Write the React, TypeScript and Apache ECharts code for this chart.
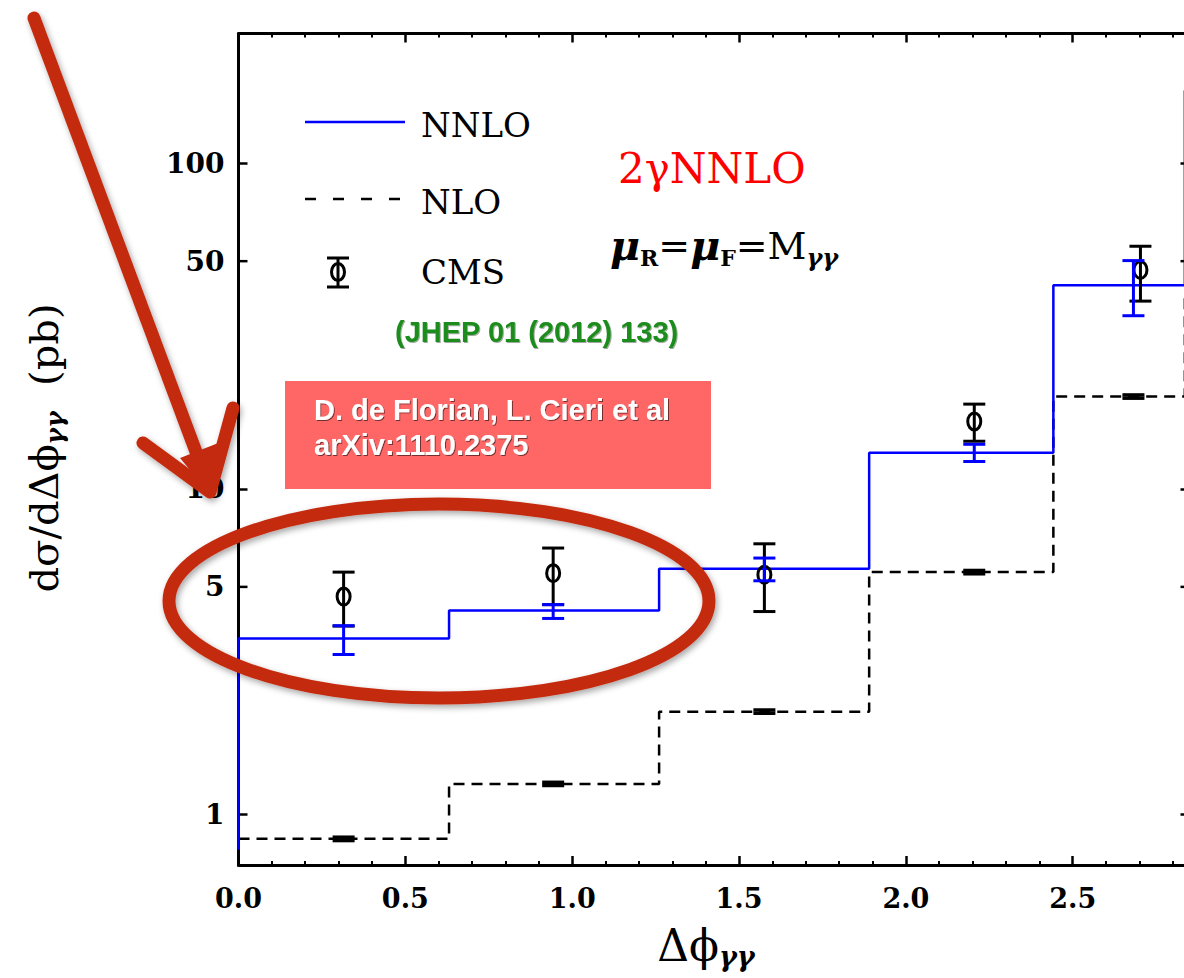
import { useEffect, useRef } from "react";
import * as echarts from "echarts";

// Bin edges in Δϕγγ and the binned predictions (pb)
const binEdges = [0, 0.631, 1.2605, 1.89, 2.442, 2.836, 3.1416];
const nnloStart = 0.78;
const nnloValues = [3.47, 4.23, 5.68, 12.9, 42.2, 167];
const nloValues = [0.842, 1.242, 2.07, 5.55, 19.2, 38.5];

// NNLO scale-uncertainty bars
const nnloBarX = [0.315, 0.943, 1.576, 2.205, 2.682];
const nnloLow = [3.1, 4.0, 5.22, 12.13, 34.0];
const nnloHigh = [3.8, 4.41, 6.13, 13.7, 50.2];

// NLO uncertainty bars (very narrow)
const nloBarX = [0.315, 0.943, 1.576, 2.205, 2.682];
const nloLow = [0.832, 1.228, 2.046, 5.485, 18.98];
const nloHigh = [0.852, 1.256, 2.094, 5.615, 19.42];

// CMS measurement
const cmsX = [0.315, 0.943, 1.576, 2.205, 2.703];
const cmsValues = [4.67, 5.51, 5.45, 16.1, 47.0];
const cmsLow = [3.79, 4.41, 4.2, 14.0, 37.7];
const cmsHigh = [5.55, 6.58, 6.78, 18.2, 55.6];

// Axis settings
const xMin = 0;
const xMax = 2.85;
const xInterval = 0.5;
const yMin = 0.7;
const yMax = 250;
const yExtraLabels = [5, 50];

const SERIF = "'DejaVu Serif', serif";
const SANS = "'Liberation Sans', Arial, sans-serif";
const BLUE = "#0000ff";
const RED_INK = "#c42a10";

function stepPoints(start: number | null, values: number[]) {
  const pts: number[][] = [];
  if (start !== null) pts.push([binEdges[0], start]);
  values.forEach((v, i) => pts.push([binEdges[i], v]));
  pts.push([binEdges[values.length], values[values.length - 1]]);
  return pts;
}

function errorBarSeries(
  xs: number[],
  lo: number[],
  hi: number[],
  color: string,
  lineWidth: number,
  capHalf: number,
  mid: number[] | null
) {
  return {
    type: "custom",
    xAxisIndex: 0,
    yAxisIndex: 0,
    clip: true,
    data: xs.map((x, i) => (mid ? [x, lo[i], hi[i], mid[i]] : [x, lo[i], hi[i]])),
    encode: { x: 0, y: mid ? [1, 2, 3] : [1, 2] },
    renderItem: (_params: any, api: any) => {
      const x = api.value(0);
      const pLo = api.coord([x, api.value(1)]);
      const pHi = api.coord([x, api.value(2)]);
      const style = { stroke: color, lineWidth, fill: "none" };
      const children: any[] = [
        { type: "line", shape: { x1: pLo[0], y1: pLo[1], x2: pHi[0], y2: pHi[1] }, style },
        { type: "line", shape: { x1: pLo[0] - capHalf, y1: pLo[1], x2: pLo[0] + capHalf, y2: pLo[1] }, style },
        { type: "line", shape: { x1: pHi[0] - capHalf, y1: pHi[1], x2: pHi[0] + capHalf, y2: pHi[1] }, style },
      ];
      if (mid) {
        const pM = api.coord([x, api.value(3)]);
        children.push({
          type: "ellipse",
          shape: { cx: pM[0], cy: pM[1], rx: 6.5, ry: 8.5 },
          style: { stroke: color, lineWidth, fill: "none" },
        });
      }
      return { type: "group", children };
    },
  };
}

export default function App() {
  const ref = useRef<HTMLDivElement>(null);

  useEffect(() => {
    const chart = echarts.init(ref.current!, null, { renderer: "svg" });

    const axisLine = { show: true, onZero: false, lineStyle: { color: "#000", width: 3 } };
    const majorTick = { show: true, inside: true, length: 9, lineStyle: { color: "#000", width: 2.5 } };
    const minorTick = { show: true, splitNumber: 5, length: 4, lineStyle: { color: "#000", width: 2 } };

    chart.setOption({
      animation: false,
      backgroundColor: "#fff",
      grid: { left: 238.5, top: 33.5, right: 0.5, bottom: 113 },
      xAxis: [
        {
          type: "value",
          position: "bottom",
          min: xMin,
          max: xMax,
          interval: xInterval,
          axisLine,
          axisTick: majorTick,
          minorTick,
          splitLine: { show: false },
          axisLabel: {
            formatter: (v: number) => v.toFixed(1),
            fontFamily: SERIF,
            fontWeight: "bold",
            fontSize: 27,
            color: "#000",
            margin: 20,
            showMaxLabel: false,
          },
        },
        {
          type: "value",
          position: "top",
          min: xMin,
          max: xMax,
          interval: xInterval,
          axisLine,
          axisTick: majorTick,
          minorTick,
          splitLine: { show: false },
          axisLabel: { show: false },
        },
      ],
      yAxis: [
        {
          type: "log",
          logBase: 10,
          position: "left",
          min: yMin,
          max: yMax,
          axisLine,
          axisTick: majorTick,
          splitLine: { show: false },
          axisLabel: {
            formatter: (v: number) => String(Math.round(v)),
            fontFamily: SERIF,
            fontWeight: "bold",
            fontSize: 28,
            color: "#000",
            margin: 14,
            showMinLabel: false,
            showMaxLabel: false,
          },
        },
        {
          type: "log",
          logBase: 10,
          position: "right",
          min: yMin,
          max: yMax,
          axisLine,
          axisTick: majorTick,
          splitLine: { show: false },
          axisLabel: { show: false },
        },
      ],
      series: [
        {
          name: "NNLO",
          type: "line",
          step: "end",
          data: stepPoints(nnloStart, nnloValues),
          showSymbol: false,
          clip: true,
          lineStyle: { color: BLUE, width: 2.5 },
          z: 3,
        },
        {
          name: "NLO",
          type: "line",
          step: "end",
          data: stepPoints(null, nloValues),
          showSymbol: false,
          clip: true,
          lineStyle: { color: "#000", width: 2.5, type: [11, 7] },
          z: 2,
        },
        { ...errorBarSeries(nloBarX, nloLow, nloHigh, "#000", 3.5, 11, null), z: 4 },
        { ...errorBarSeries(cmsX, cmsLow, cmsHigh, "#000", 3, 11, cmsValues), z: 5 },
        { ...errorBarSeries(nnloBarX, nnloLow, nnloHigh, BLUE, 3, 11, null), z: 6 },
      ],
    });

    const gridLeft = chart.convertToPixel({ xAxisIndex: 0 }, xMin) as number;
    const gridRight = chart.convertToPixel({ xAxisIndex: 0 }, xMax) as number;

    const extra: any[] = [];
    yExtraLabels.forEach((v) => {
      const y = chart.convertToPixel({ yAxisIndex: 0 }, v) as number;
      extra.push(
        { type: "line", shape: { x1: gridLeft, y1: y, x2: gridLeft + 9, y2: y }, style: { stroke: "#000", lineWidth: 2.5 } },
        { type: "line", shape: { x1: gridRight - 9, y1: y, x2: gridRight, y2: y }, style: { stroke: "#000", lineWidth: 2.5 } },
        {
          type: "text",
          x: gridLeft - 14,
          y,
          style: {
            text: String(v),
            font: `bold 28px ${SERIF}`,
            fill: "#000",
            align: "right",
            verticalAlign: "middle",
          },
        }
      );
    });

    const legend: any[] = [
      { type: "line", shape: { x1: 305, y1: 122, x2: 405, y2: 122 }, style: { stroke: BLUE, lineWidth: 2.5 } },
      {
        type: "text", x: 421, y: 125,
        style: { text: "NNLO", font: `34px ${SERIF}`, fill: "#000", verticalAlign: "middle" },
      },
      {
        type: "line", shape: { x1: 305, y1: 199, x2: 400, y2: 199 },
        style: { stroke: "#000", lineWidth: 2.5, lineDash: [11, 17] },
      },
      {
        type: "text", x: 421, y: 202,
        style: { text: "NLO", font: `34px ${SERIF}`, fill: "#000", verticalAlign: "middle" },
      },
      { type: "line", shape: { x1: 338, y1: 258, x2: 338, y2: 287 }, style: { stroke: "#000", lineWidth: 3 } },
      { type: "line", shape: { x1: 327, y1: 258, x2: 349, y2: 258 }, style: { stroke: "#000", lineWidth: 3 } },
      { type: "line", shape: { x1: 327, y1: 287, x2: 349, y2: 287 }, style: { stroke: "#000", lineWidth: 3 } },
      { type: "ellipse", shape: { cx: 338, cy: 272, rx: 6.5, ry: 8.5 }, style: { stroke: "#000", lineWidth: 3, fill: "none" } },
      {
        type: "text", x: 421, y: 272,
        style: { text: "CMS", font: `34px ${SERIF}`, fill: "#000", verticalAlign: "middle" },
      },
    ];

    const boxText = {
      font: `bold 29px ${SANS}`,
      fill: "#fff",
      verticalAlign: "middle",
      textShadowColor: "rgba(0,0,0,0.55)",
      textShadowBlur: 1,
      textShadowOffsetX: 1,
      textShadowOffsetY: 1,
    };

    const labels: any[] = [
      {
        type: "text", x: 618, y: 168,
        style: { text: "2γNNLO", font: `42px ${SERIF}`, fill: "#ff0000", verticalAlign: "middle" },
      },
      {
        type: "text", x: 610, y: 246,
        style: {
          text: "{mu|μ}{sub|R}{eq|=}{mu|μ}{sub|F}{eq|=}{m|M}{gs|γγ}",
          verticalAlign: "middle",
          rich: {
            mu: { fontFamily: SERIF, fontSize: 41, fontStyle: "italic", fontWeight: "bold", fill: "#000", lineHeight: 46 },
            sub: { fontFamily: SERIF, fontSize: 22, fontWeight: "bold", fill: "#000", verticalAlign: "bottom" },
            eq: { fontFamily: SERIF, fontSize: 38, fill: "#000", lineHeight: 46 },
            m: { fontFamily: SERIF, fontSize: 38, fill: "#000", lineHeight: 46 },
            gs: { fontFamily: SERIF, fontSize: 24, fontStyle: "italic", fontWeight: "bold", fill: "#000", verticalAlign: "bottom" },
          },
        },
      },
      {
        type: "text", x: 395, y: 332,
        style: {
          text: "(JHEP 01 (2012) 133)",
          font: `bold 29px ${SANS}`,
          fill: "#1c8c1c",
          verticalAlign: "middle",
          textShadowColor: "rgba(0,0,0,0.35)",
          textShadowBlur: 1,
          textShadowOffsetX: 1,
          textShadowOffsetY: 1,
        },
      },
      { type: "rect", shape: { x: 285, y: 381, width: 426, height: 108 }, style: { fill: "#ff6666" } },
      { type: "text", x: 314, y: 410, style: { ...boxText, text: "D. de Florian, L. Cieri et al" } },
      { type: "text", x: 314, y: 445, style: { ...boxText, text: "arXiv:1110.2375" } },
      {
        type: "text", x: 44, y: 448, rotation: Math.PI / 2,
        style: {
          text: "{a|dσ/dΔϕ}{b|γγ}{a|  (pb)}",
          align: "center",
          verticalAlign: "middle",
          rich: {
            a: { fontFamily: SERIF, fontSize: 40, fill: "#000", lineHeight: 46 },
            b: { fontFamily: SERIF, fontSize: 25, fontStyle: "italic", fontWeight: "bold", fill: "#000", verticalAlign: "bottom" },
          },
        },
      },
      {
        type: "text", x: 706, y: 945,
        style: {
          text: "{a|Δϕ}{b|γγ}",
          align: "center",
          verticalAlign: "middle",
          rich: {
            a: { fontFamily: SERIF, fontSize: 44, fill: "#000", lineHeight: 50 },
            b: { fontFamily: SERIF, fontSize: 27, fontStyle: "italic", fontWeight: "bold", fill: "#000", verticalAlign: "bottom" },
          },
        },
      },
    ];

    const ink = {
      stroke: RED_INK,
      fill: "none",
      lineCap: "round",
      lineJoin: "round",
      shadowBlur: 6,
      shadowColor: "rgba(0,0,0,0.35)",
      shadowOffsetX: 2,
      shadowOffsetY: 3,
    };
    const marks: any[] = [
      {
        type: "ellipse",
        shape: { cx: 439, cy: 601, rx: 270, ry: 97 },
        style: { ...ink, lineWidth: 13 },
        z: 100,
      },
      { type: "polyline", shape: { points: [[34, 18], [205, 476]] }, style: { ...ink, lineWidth: 13 }, z: 100 },
      {
        type: "polyline",
        shape: { points: [[143, 443], [210, 492], [233, 408]] },
        style: { ...ink, lineWidth: 13 },
        z: 100,
      },
      {
        type: "polygon",
        shape: { points: [[180, 458], [210, 494], [226, 440]] },
        style: { fill: RED_INK },
        z: 100,
      },
    ];

    chart.setOption({ graphic: [...extra, ...legend, ...labels, ...marks] });

    return () => chart.dispose();
  }, []);

  return (
    <div style={{ position: "absolute", left: 0, top: 0, width: 1184, height: 978, overflow: "hidden", background: "#fff" }}>
      <div ref={ref} style={{ width: 1190, height: 978 }} />
    </div>
  );
}
